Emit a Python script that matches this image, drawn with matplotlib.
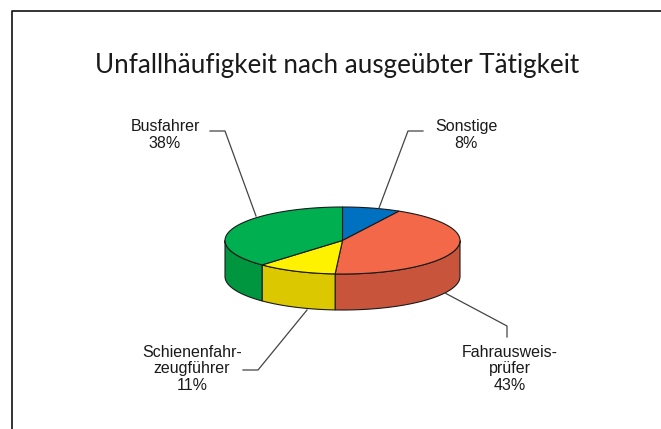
import numpy as np
import matplotlib.pyplot as plt
from matplotlib.patches import Polygon

labels = ['Sonstige', 'Fahrausweis-\nprüfer', 'Schienenfahr-\nzeugführer', 'Busfahrer']
values = [8, 43, 11, 38]
top_colors = ['#0070C0', '#F26849', '#FFF200', '#00B050']
side_colors = ['#005A9C', '#C8553B', '#DCC800', '#00963F']

# pie geometry in pixels
cx, cy = 342.5, 240.5
rx, ry = 117.5, 33.5
depth = 36


def ell(t, dy=0):
    t = np.radians(t)
    return np.column_stack([cx + rx * np.cos(t), cy - ry * np.sin(t) + dy])


fig = plt.figure(figsize=(6.61, 4.29), dpi=100)
ax = fig.add_axes([0, 0, 1, 1])
ax.set_xlim(0, 661)
ax.set_ylim(429, 0)
ax.axis('off')

# frame on top and left
ax.plot([12, 12, 661], [429, 11, 11], color='#111111', lw=1.2)

angles = 90 - np.concatenate([[0], np.cumsum(values)]) * 3.6

# sides (front half only)
for i in range(len(values)):
    a0, a1 = angles[i], angles[i + 1]
    s0, s1 = min(a0, 0), max(a1, -180)
    if s0 <= s1:
        continue
    t = np.linspace(s0, s1, 80)
    pts = np.vstack([ell(t), ell(t[::-1], depth)])
    ax.add_patch(Polygon(pts, closed=True, fc=side_colors[i], ec='#1a1a1a', lw=0.8))

# tops
for i in range(len(values)):
    t = np.linspace(angles[i], angles[i + 1], 120)
    pts = np.vstack([[cx, cy], ell(t)])
    ax.add_patch(Polygon(pts, closed=True, fc=top_colors[i], ec='#1a1a1a', lw=0.8))

ax.text(337, 66, 'Unfallhäufigkeit nach ausgeübter Tätigkeit', ha='center', va='center',
        fontsize=18.7, family='Lato', color='#1a1a1a')

lc = '#444444'
lab_font = dict(ha='center', va='center', fontsize=11.5, family='Liberation Sans',
                color='#1a1a1a', linespacing=1.12)

ax.plot([210, 225, 256], [131, 131, 216], color=lc, lw=0.9)
ax.text(165, 135, 'Busfahrer\n38%', **lab_font)

ax.plot([423, 408, 379], [131, 131, 208], color=lc, lw=0.9)
ax.text(466, 135, 'Sonstige\n8%', **lab_font)

ax.plot([243, 258, 307], [370, 370, 310], color=lc, lw=0.9)
ax.text(192, 369, 'Schienenfahr-\nzeugführer\n11%', **lab_font)

ax.plot([445, 507, 507], [293, 326, 337], color=lc, lw=0.9)
ax.text(510, 369, 'Fahrausweis-\nprüfer\n43%', **lab_font)

fig.savefig('out.png', dpi=100)
